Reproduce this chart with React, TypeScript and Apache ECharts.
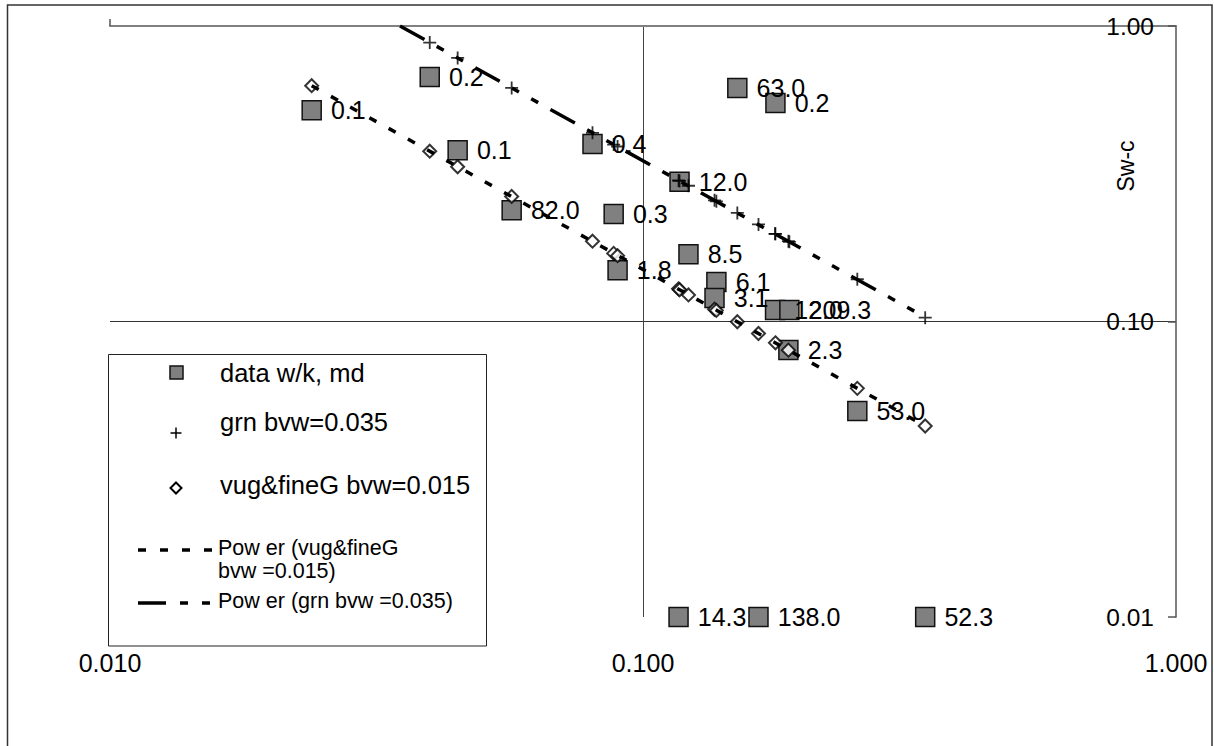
import React, { useEffect, useRef } from "react";
import * as echarts from "echarts";

// ---- data ----
const squareX = [0.0239, 0.0398, 0.0449, 0.0804, 0.1171, 0.0567, 0.0881, 0.1503, 0.1772, 0.1217, 0.0896, 0.1373, 0.1362, 0.1769, 0.1882, 0.1874, 0.2524, 0.1166, 0.1647, 0.3384];
const squareY = [0.519, 0.672, 0.380, 0.399, 0.297, 0.238, 0.231, 0.617, 0.549, 0.169, 0.149, 0.136, 0.120, 0.1094, 0.1094, 0.0801, 0.0498, 0.01, 0.01, 0.01];
const squareLabels = ["0.1", "0.2", "0.1", "0.4", "12.0", "82.0", "0.3", "63.0", "0.2", "8.5", "1.8", "6.1", "3.1", "12.0", "209.3", "2.3", "53.0", "14.3", "138.0", "52.3"];

const grnX = [0.0398, 0.0449, 0.0567, 0.0804, 0.0881, 0.0896, 0.1166, 0.1171, 0.1217, 0.1362, 0.1373, 0.1503, 0.1647, 0.1769, 0.1772, 0.1874, 0.1882, 0.2524, 0.3384];
const grnY = [0.879, 0.780, 0.617, 0.435, 0.397, 0.391, 0.300, 0.299, 0.288, 0.257, 0.255, 0.233, 0.213, 0.198, 0.198, 0.187, 0.186, 0.139, 0.103];

const vugX = [0.0239, 0.0398, 0.0449, 0.0567, 0.0804, 0.0881, 0.0896, 0.1166, 0.1171, 0.1217, 0.1362, 0.1373, 0.1503, 0.1647, 0.1772, 0.1874, 0.2524, 0.3384];
const vugY = [0.628, 0.377, 0.334, 0.265, 0.187, 0.170, 0.167, 0.129, 0.128, 0.123, 0.110, 0.109, 0.0998, 0.0911, 0.0847, 0.0800, 0.0594, 0.0443];

const trendVugX = [0.0239, 0.3384];
const trendVugY = [0.628, 0.0443];
const trendGrnX = [0.035, 0.3384];
const trendGrnY = [1.0, 0.1034];

const xTickLabels = ["0.010", "0.100", "1.000"];
const yTickLabels = ["0.01", "0.10", "1.00"];

const FONT = "'Liberation Sans', Arial, sans-serif";
const VUG_DASH = [8, 14];
const GRN_DASH = [28, 14, 8, 14, 8, 14];

function labelFor(list: string[], v: number) {
  const idx = Math.round(Math.log10(v)) + 2;
  return list[idx] ?? "";
}

export default function App() {
  const ref = useRef<HTMLDivElement>(null);
  useEffect(() => {
    if (!ref.current) return;
    const chart = echarts.init(ref.current, null, { renderer: "svg" });
    const option: any = {
      animation: false,
      backgroundColor: "#ffffff",
      textStyle: { fontFamily: FONT },
      grid: { left: 110, right: 38, top: 26, bottom: 129, containLabel: false },
      xAxis: [
        {
          type: "log",
          logBase: 10,
          min: 0.01,
          max: 1,
          position: "bottom",
          axisLine: { show: false },
          axisTick: { show: false },
          axisLabel: {
            show: true,
            margin: 33,
            fontSize: 25,
            color: "#000",
            fontFamily: FONT,
            formatter: (v: number) => labelFor(xTickLabels, v),
          },
          splitLine: { show: true, lineStyle: { color: ["transparent", "#444", "transparent"], width: 1 } },
        },
        {
          type: "log",
          logBase: 10,
          min: 0.01,
          max: 1,
          position: "top",
          axisLine: { show: true, lineStyle: { color: "#808080", width: 2 } },
          axisTick: { show: true, customValues: [0.01], length: 7, lineStyle: { color: "#555", width: 1.5 } },
          axisLabel: { show: false },
          splitLine: { show: false },
        },
      ],
      yAxis: {
        type: "log",
        logBase: 10,
        min: 0.01,
        max: 1,
        position: "right",
        axisLine: { show: true, lineStyle: { color: "#808080", width: 2 } },
        axisTick: { show: true, inside: true, length: 8, lineStyle: { color: "#555", width: 1.5 } },
        axisLabel: {
          show: true,
          inside: true,
          margin: 22,
          fontSize: 24.5,
          color: "#000",
          fontFamily: FONT,
          formatter: (v: number) => labelFor(yTickLabels, v),
        },
        splitLine: { show: true, lineStyle: { color: ["transparent", "#333", "transparent"], width: 1 } },
      },
      series: [
        {
          name: "data w/k, md",
          type: "scatter",
          xAxisIndex: 0,
          clip: false,
          z: 2,
          symbol: "rect",
          symbolSize: 19,
          itemStyle: { color: "#808080", borderColor: "#111", borderWidth: 1.5, opacity: 1 },
          label: {
            show: true,
            position: "right",
            distance: 9,
            fontSize: 25,
            color: "#000",
            fontFamily: FONT,
            formatter: (p: any) => p.data[2],
          },
          data: squareX.map((x, i) => [x, squareY[i], squareLabels[i]]),
        },
        {
          name: "grn bvw=0.035",
          type: "scatter",
          xAxisIndex: 0,
          clip: false,
          z: 3,
          symbol: "path://M5,0 L5,10 M0,5 L10,5",
          symbolSize: 13,
          itemStyle: { color: "none", borderColor: "#000", borderWidth: 1.8 },
          data: grnX.map((x, i) => [x, grnY[i]]),
        },
        {
          name: "vug&fineG bvw=0.015",
          type: "scatter",
          xAxisIndex: 0,
          clip: false,
          z: 3,
          symbol: "diamond",
          symbolSize: 13,
          itemStyle: { color: "#fff", borderColor: "#000", borderWidth: 2 },
          data: vugX.map((x, i) => [x, vugY[i]]),
        },
        {
          name: "Power (vug&fineG bvw=0.015)",
          type: "line",
          xAxisIndex: 0,
          z: 5,
          showSymbol: false,
          symbol: "none",
          lineStyle: { color: "#000", width: 3.5, type: VUG_DASH },
          data: trendVugX.map((x, i) => [x, trendVugY[i]]),
        },
        {
          name: "Power (grn bvw=0.035)",
          type: "line",
          xAxisIndex: 0,
          z: 5,
          showSymbol: false,
          symbol: "none",
          lineStyle: { color: "#000", width: 3.5, type: GRN_DASH },
          data: trendGrnX.map((x, i) => [x, trendGrnY[i]]),
        },
      ],
      graphic: [
        {
          type: "rect",
          silent: true,
          z: 0,
          shape: { x: 7.5, y: 5, width: 1204.5, height: 800 },
          style: { fill: "none", stroke: "#333", lineWidth: 1.5 },
        },
        {
          type: "text",
          z: 10,
          x: 1126,
          y: 166,
          rotation: Math.PI / 2,
          style: { text: "Sw-c", fontSize: 23, fontFamily: FONT, fill: "#000", align: "center", verticalAlign: "middle" },
        },
        {
          type: "group",
          z: 20,
          children: [
            {
              type: "rect",
              shape: { x: 108.5, y: 354.5, width: 378, height: 291.5 },
              style: { fill: "#fff", stroke: "#222", lineWidth: 1 },
            },
            {
              type: "rect",
              shape: { x: 170, y: 366, width: 13, height: 13 },
              style: { fill: "#808080", stroke: "#111", lineWidth: 1.5 },
            },
            {
              type: "text",
              x: 220,
              y: 373,
              style: { text: "data w/k, md", fontSize: 25.5, fontFamily: FONT, fill: "#000", verticalAlign: "middle" },
            },
            { type: "line", shape: { x1: 170.5, y1: 433, x2: 181.5, y2: 433 }, style: { stroke: "#000", lineWidth: 1.5 } },
            { type: "line", shape: { x1: 176, y1: 427.5, x2: 176, y2: 438.5 }, style: { stroke: "#000", lineWidth: 1.5 } },
            {
              type: "text",
              x: 220,
              y: 422,
              style: { text: "grn bvw=0.035", fontSize: 25.5, fontFamily: FONT, fill: "#000", verticalAlign: "middle" },
            },
            {
              type: "polygon",
              shape: { points: [[176, 482.5], [181.5, 488], [176, 493.5], [170.5, 488]] },
              style: { fill: "#fff", stroke: "#000", lineWidth: 2 },
            },
            {
              type: "text",
              x: 220,
              y: 485,
              style: { text: "vug&fineG bvw=0.015", fontSize: 25.5, fontFamily: FONT, fill: "#000", verticalAlign: "middle" },
            },
            {
              type: "line",
              shape: { x1: 138, y1: 550, x2: 218, y2: 550 },
              style: { stroke: "#000", lineWidth: 3.5, lineDash: VUG_DASH },
            },
            {
              type: "text",
              x: 218,
              y: 548,
              style: { text: "Pow er (vug&fineG", fontSize: 21.5, fontFamily: FONT, fill: "#000", verticalAlign: "middle" },
            },
            {
              type: "text",
              x: 218,
              y: 571,
              style: { text: "bvw =0.015)", fontSize: 21.5, fontFamily: FONT, fill: "#000", verticalAlign: "middle" },
            },
            {
              type: "line",
              shape: { x1: 138, y1: 603, x2: 218, y2: 603 },
              style: { stroke: "#000", lineWidth: 3.5, lineDash: GRN_DASH },
            },
            {
              type: "text",
              x: 218,
              y: 601,
              style: { text: "Pow er (grn bvw =0.035)", fontSize: 21.5, fontFamily: FONT, fill: "#000", verticalAlign: "middle" },
            },
          ],
        },
      ],
    };
    chart.setOption(option);
    return () => chart.dispose();
  }, []);
  return (
    <div
      ref={ref}
      style={{ position: "absolute", left: 0, top: 0, width: 1214, height: 746, background: "#fff" }}
    />
  );
}
